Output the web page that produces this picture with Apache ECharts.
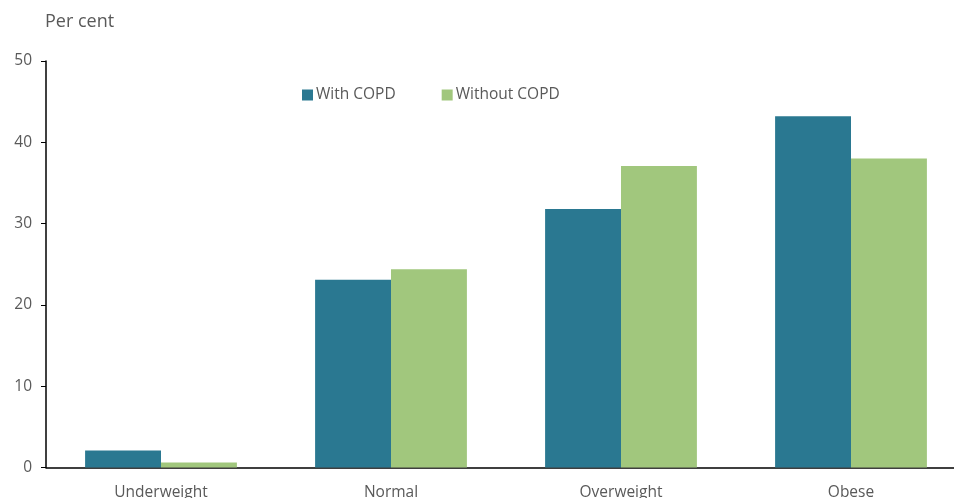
<!DOCTYPE html>
<html>
<head>
<meta charset="utf-8">
<script src="https://cdn.jsdelivr.net/npm/echarts@6/dist/echarts.min.js"></script>
<style>
  html, body { margin: 0; padding: 0; background: #ffffff; }
  #chart { width: 954px; height: 498px; }
</style>
</head>
<body>
<div id="chart"></div>
<script>
// BMI category shares among people with and without COPD
const categories = ['Underweight', 'Normal', 'Overweight', 'Obese'];
const withCopd = [2.1, 23.1, 31.8, 43.2];
const withoutCopd = [0.6, 24.4, 37.1, 38.0];
const yTicks = { min: 0, max: 50, interval: 10 };

const textColor = '#595959';
const fontFamily = '"Open Sans", "Liberation Sans", sans-serif';

const chart = echarts.init(document.getElementById('chart'), null, { renderer: 'canvas' });

chart.setOption({
  animation: false,
  textStyle: { fontFamily: fontFamily, color: textColor },
  grid: { left: 46, top: 61, width: 920, height: 406.5, containLabel: false, outerBoundsMode: 'none' },
  title: {
    text: 'Per cent',
    left: 40,
    top: 8,
    textStyle: { fontFamily: fontFamily, fontSize: 18, fontWeight: 'normal', color: textColor }
  },
  legend: {
    data: ['With COPD', 'Without COPD'],
    left: 297,
    top: 82,
    itemWidth: 11,
    itemHeight: 11,
    itemGap: 46,
    icon: 'rect',
    textStyle: { fontFamily: fontFamily, fontSize: 15.5, color: textColor, padding: [0, 0, 0, -2] }
  },
  xAxis: {
    type: 'category',
    data: categories,
    axisLine: { lineStyle: { color: '#000000', width: 1.5 } },
    axisTick: { show: false },
    axisLabel: { fontFamily: fontFamily, fontSize: 15.5, color: textColor, margin: 17 }
  },
  yAxis: {
    type: 'value',
    min: yTicks.min,
    max: yTicks.max,
    interval: yTicks.interval,
    splitLine: { show: false },
    axisLine: { show: true, lineStyle: { color: '#000000', width: 1.5 } },
    axisTick: { show: true, length: 5, lineStyle: { color: '#000000' } },
    axisLabel: { fontFamily: fontFamily, fontSize: 15.5, color: textColor, margin: 14 }
  },
  series: [
    {
      name: 'With COPD',
      type: 'bar',
      data: withCopd,
      barGap: '0%',
      barCategoryGap: '34%',
      itemStyle: { color: '#2a7891' }
    },
    {
      name: 'Without COPD',
      type: 'bar',
      data: withoutCopd,
      itemStyle: { color: '#a1c77d' }
    }
  ]
});
</script>
</body>
</html>
